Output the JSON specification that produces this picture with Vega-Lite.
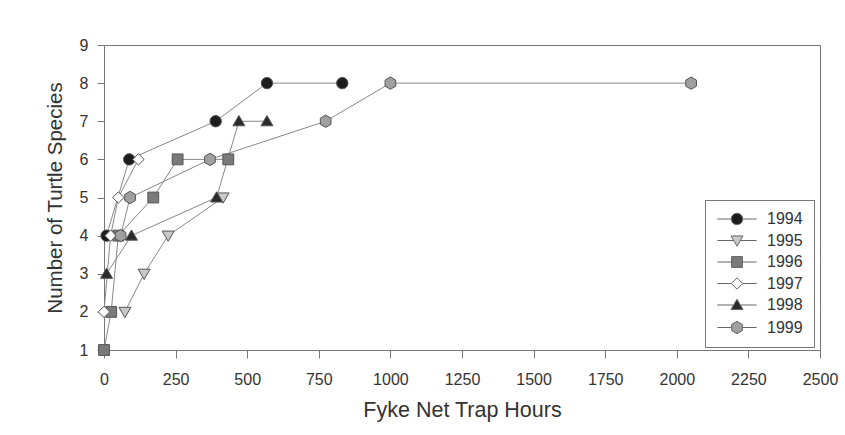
{
  "$schema": "https://vega.github.io/schema/vega-lite/v6.json",
  "width": 716,
  "height": 305,
  "autosize": "none",
  "padding": {"left": 104, "top": 45, "right": 25, "bottom": 85},
  "background": "white",
  "config": {
    "font": "Liberation Sans",
    "view": {"stroke": "#777", "strokeWidth": 1},
    "axis": {"grid": false, "domainColor": "#777", "tickColor": "#777", "labelColor": "#333", "titleColor": "#333", "titleFontWeight": "normal", "labelFont": "Liberation Sans", "titleFont": "Liberation Sans", "labelOverlap": false}
  },
  "datasets": {
    "turtles": [
      {"year": "1994", "hours": 9, "species": 4},
      {"year": "1994", "hours": 88, "species": 6},
      {"year": "1994", "hours": 390, "species": 7},
      {"year": "1994", "hours": 569, "species": 8},
      {"year": "1994", "hours": 832, "species": 8},
      {"year": "1995", "hours": 73, "species": 2},
      {"year": "1995", "hours": 140, "species": 3},
      {"year": "1995", "hours": 224, "species": 4},
      {"year": "1995", "hours": 416, "species": 5},
      {"year": "1996", "hours": 0, "species": 1},
      {"year": "1996", "hours": 25, "species": 2},
      {"year": "1996", "hours": 50, "species": 4},
      {"year": "1996", "hours": 172, "species": 5},
      {"year": "1996", "hours": 257, "species": 6},
      {"year": "1996", "hours": 434, "species": 6},
      {"year": "1997", "hours": 0, "species": 2},
      {"year": "1997", "hours": 23, "species": 4},
      {"year": "1997", "hours": 50, "species": 5},
      {"year": "1997", "hours": 120, "species": 6},
      {"year": "1998", "hours": 9, "species": 3},
      {"year": "1998", "hours": 96, "species": 4},
      {"year": "1998", "hours": 393, "species": 5},
      {"year": "1998", "hours": 471, "species": 7},
      {"year": "1998", "hours": 569, "species": 7},
      {"year": "1999", "hours": 58, "species": 4},
      {"year": "1999", "hours": 91, "species": 5},
      {"year": "1999", "hours": 370, "species": 6},
      {"year": "1999", "hours": 774, "species": 7},
      {"year": "1999", "hours": 1000, "species": 8},
      {"year": "1999", "hours": 2050, "species": 8}
    ],
    "minorTicks": [
      {"hours": 50}, {"hours": 100}, {"hours": 150}, {"hours": 200},
      {"hours": 300}, {"hours": 350}, {"hours": 400}, {"hours": 450},
      {"hours": 550}, {"hours": 600}, {"hours": 650}, {"hours": 700},
      {"hours": 800}, {"hours": 850}, {"hours": 900}, {"hours": 950},
      {"hours": 1050}, {"hours": 1100}, {"hours": 1150}, {"hours": 1200},
      {"hours": 1300}, {"hours": 1350}, {"hours": 1400}, {"hours": 1450},
      {"hours": 1550}, {"hours": 1600}, {"hours": 1650}, {"hours": 1700},
      {"hours": 1800}, {"hours": 1850}, {"hours": 1900}, {"hours": 1950},
      {"hours": 2050}, {"hours": 2100}, {"hours": 2150}, {"hours": 2200},
      {"hours": 2300}, {"hours": 2350}, {"hours": 2400}, {"hours": 2450}
    ]
  },
  "data": {"name": "turtles"},
  "encoding": {
    "x": {"field": "hours", "type": "quantitative", "scale": {"domain": [0, 2500], "nice": false, "zero": false},
      "axis": {"values": [0, 250, 500, 750, 1000, 1250, 1500, 1750, 2000, 2250, 2500], "format": "d", "tickSize": 8, "labelFontSize": 16, "labelPadding": 13, "labelFlush": false, "labelOverlap": false, "title": "Fyke Net Trap Hours", "titleFontSize": 21.5, "titlePadding": 12}},
    "y": {"field": "species", "type": "quantitative", "scale": {"domain": [1, 9], "nice": false, "zero": false},
      "axis": {"values": [1, 2, 3, 4, 5, 6, 7, 8, 9], "format": "d", "labelOverlap": false, "tickSize": 7, "labelFontSize": 16, "labelPadding": 9, "title": "Number of Turtle Species", "titleFontSize": 20.5, "titlePadding": 14}}
  },
  "resolve": {"scale": {"shape": "independent", "fill": "independent", "stroke": "independent"}},
  "layer": [
    {
      "data": {"name": "minorTicks"},
      "mark": {"type": "rule", "stroke": "#777", "strokeWidth": 1, "clip": false},
      "encoding": {
        "y": {"datum": 1},
        "y2": {"datum": 0.895}
      }
    },
    {
      "mark": {"type": "line", "stroke": "#888", "strokeWidth": 1},
      "encoding": {
        "detail": {"field": "year", "type": "nominal"}
      }
    },
    {
      "mark": {"type": "point", "filled": true, "stroke": "#555", "strokeWidth": 1, "opacity": 1, "size": 130},
      "encoding": {
        "shape": {"field": "year", "type": "nominal", "legend": null, "scale": {"domain": ["1994", "1995", "1996", "1997", "1998", "1999"], "range": [
          "M-1,0A1,1,0,1,1,1,0A1,1,0,1,1,-1,0Z",
          "M-1.05,-0.8L1.05,-0.8L0,1Z",
          "M-0.95,-0.95L0.95,-0.95L0.95,0.95L-0.95,0.95Z",
          "M0,-1L1,0L0,1L-1,0Z",
          "M0,-1L1.05,0.8L-1.05,0.8Z",
          "M0,-1.08L0.935,-0.54L0.935,0.54L0,1.08L-0.935,0.54L-0.935,-0.54Z"
        ]}},
        "fill": {"field": "year", "type": "nominal", "legend": null, "scale": {"domain": ["1994", "1995", "1996", "1997", "1998", "1999"], "range": ["#1c1c1c", "#c9c9c9", "#7a7a7a", "#ffffff", "#2a2a2a", "#a0a0a0"]}}
      }
    },
    {
      "mark": {"type": "point", "filled": true, "strokeWidth": 1, "opacity": 0, "size": 130},
      "encoding": {
        "shape": {"field": "year", "type": "nominal",
          "legend": {"orient": "none", "legendX": 601, "legendY": 155, "title": null, "padding": 11, "strokeColor": "#777", "fillColor": "white", "symbolOpacity": 1, "labelFontSize": 16, "labelColor": "#333", "labelFont": "Liberation Sans", "rowPadding": 5.5, "symbolOffset": 13, "labelOffset": 22, "labelExpr": "datum.label + '\u00a0\u00a0\u00a0\u00a0\u00a0\u00a0\u00a0\u00a0'", "symbolStrokeWidth": 1, "symbolSize": 130},
          "scale": {"domain": ["1994", "1995", "1996", "1997", "1998", "1999"], "range": [
          "M-1,0A1,1,0,1,1,1,0A1,1,0,1,1,-1,0ZM-3.44,0L-1,0M1,0L3.44,0",
          "M-1.05,-0.8L1.05,-0.8L0,1ZM-3.44,0L-0.58,0M0.58,0L3.44,0",
          "M-0.95,-0.95L0.95,-0.95L0.95,0.95L-0.95,0.95ZM-3.44,0L-0.95,0M0.95,0L3.44,0",
          "M0,-1L1,0L0,1L-1,0ZM-3.44,0L-1,0M1,0L3.44,0",
          "M0,-1L1.05,0.8L-1.05,0.8ZM-3.44,0L-0.58,0M0.58,0L3.44,0",
          "M0,-1.08L0.935,-0.54L0.935,0.54L0,1.08L-0.935,0.54L-0.935,-0.54ZM-3.44,0L-0.935,0M0.935,0L3.44,0"
        ]}},
        "fill": {"field": "year", "type": "nominal", "scale": {"domain": ["1994", "1995", "1996", "1997", "1998", "1999"], "range": ["#1c1c1c", "#c9c9c9", "#7a7a7a", "#ffffff", "#2a2a2a", "#a0a0a0"]}},
        "stroke": {"field": "year", "type": "nominal", "scale": {"domain": ["1994", "1995", "1996", "1997", "1998", "1999"], "range": ["#666", "#666", "#666", "#666", "#666", "#666"]}}
      }
    }
  ]
}
